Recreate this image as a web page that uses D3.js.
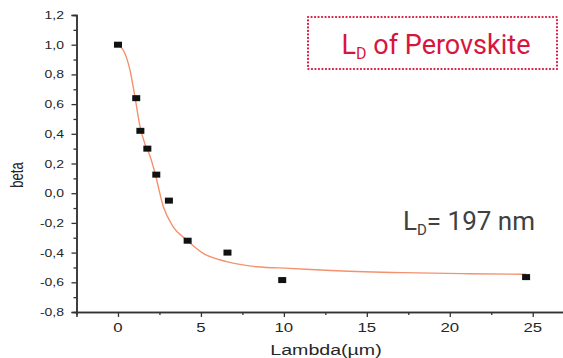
<!DOCTYPE html>
<html>
<head>
<meta charset="utf-8">
<script src="https://cdn.jsdelivr.net/npm/d3@7"></script>
<style>
  body { margin: 0; background: #fff; }
  svg { display: block; }
  .tick-label { font-family: "Liberation Sans", Arial, sans-serif; fill: #262626; }
</style>
</head>
<body>
<div id="chart"></div>
<script>
// measured points (Lambda in µm, beta)
const lambda = [0, 1.1, 1.35, 1.77, 2.31, 3.07, 4.2, 6.6, 9.9, 24.6]
const beta = [1.0, 0.64, 0.42, 0.30, 0.125, -0.05, -0.32, -0.40, -0.585, -0.565]

// fitted curve
const fitX = [0, 0.32, 0.72, 1.02, 1.33, 1.63, 1.93, 2.23, 2.73, 3.33, 4.14, 5.14, 6.55, 8.36, 10.36, 13.17, 17.17, 21.2, 24.6]
const fitY = [1.0, 0.964, 0.83, 0.65, 0.448, 0.33, 0.25, 0.136, -0.09, -0.226, -0.315, -0.405, -0.461, -0.495, -0.506, -0.522, -0.535, -0.542, -0.546]

const xTicks = [0, 5, 10, 15, 20, 25]
const xMinor = [2.5, 7.5, 12.5, 17.5, 22.5, 27.5]
const yTicks = [-0.8, -0.6, -0.4, -0.2, 0, 0.2, 0.4, 0.6, 0.8, 1.0, 1.2]
const yMinor = [-0.7, -0.5, -0.3, -0.1, 0.1, 0.3, 0.5, 0.7, 0.9, 1.1]

const width = 563
const height = 358

const x = d3.scaleLinear().domain([-2.5, 27.5]).range([76.5, 574.2])
const y = d3.scaleLinear().domain([-0.8, 1.2]).range([312, 15])

const svg = d3.select('#chart').append('svg')
    .attr('width', width)
    .attr('height', height)

const fmt = (d) => d3.format('.1f')(d).replace('.', ',').replace('−', '-')

// axes (minor ticks first, then major)
const axisColor = '#333'
const xAxisG = svg.append('g').attr('transform', `translate(0,${y(-0.8)})`)
xAxisG.call(d3.axisBottom(x).tickValues(xMinor).tickSize(3).tickFormat(''))
xAxisG.append('g').call(d3.axisBottom(x).tickValues(xTicks).tickSize(5).tickFormat(''))

const yAxisG = svg.append('g').attr('transform', `translate(${x(-2.5)},0)`)
yAxisG.call(d3.axisLeft(y).tickValues(yMinor).tickSize(3).tickFormat(''))
yAxisG.append('g').call(d3.axisLeft(y).tickValues(yTicks).tickSize(5).tickFormat(''))

svg.selectAll('.domain').attr('stroke', axisColor).attr('stroke-width', 1.5)
svg.selectAll('.tick line').attr('stroke', axisColor).attr('stroke-width', 1.3)
xAxisG.select('g').select('.domain').remove()
yAxisG.select('g').select('.domain').remove()

// tick labels, drawn a bit wide like the source image
svg.selectAll('text.xlab')
    .data(xTicks)
    .enter()
    .append('text')
    .attr('class', 'tick-label')
    .attr('transform', (d) => `translate(${x(d)},332) scale(1.4,1)`)
    .attr('text-anchor', 'middle')
    .attr('font-size', 12)
    .text((d) => d)

svg.selectAll('text.ylab')
    .data(yTicks)
    .enter()
    .append('text')
    .attr('class', 'tick-label')
    .attr('transform', (d) => `translate(64,${y(d) + 4}) scale(1.4,1)`)
    .attr('text-anchor', 'end')
    .attr('font-size', 10)
    .text(fmt)

svg.append('text')
    .attr('class', 'tick-label')
    .attr('transform', 'translate(326,355) scale(1.4,1)')
    .attr('text-anchor', 'middle')
    .attr('font-size', 14)
    .text('Lambda(µm)')

svg.append('text')
    .attr('class', 'tick-label')
    .attr('transform', 'translate(23,175) rotate(-90) scale(1,1.4)')
    .attr('text-anchor', 'middle')
    .attr('font-size', 13)
    .text('beta')

// fit curve
const line = d3.line()
    .x((d, i) => x(fitX[i]))
    .y((d) => y(d))
    .curve(d3.curveMonotoneX)

svg.append('path')
    .datum(fitY)
    .attr('d', line)
    .attr('fill', 'none')
    .attr('stroke', '#f5916e')
    .attr('stroke-width', 1.4)

// markers
svg.selectAll('rect.pt')
    .data(lambda)
    .enter()
    .append('rect')
    .attr('class', 'pt')
    .attr('x', (d) => x(d) - 4)
    .attr('y', (d, i) => y(beta[i]) - 3)
    .attr('width', 8)
    .attr('height', 6)
    .attr('fill', '#111')

// title box
const red = '#d8163d'
svg.append('rect')
    .attr('x', 308)
    .attr('y', 17)
    .attr('width', 249)
    .attr('height', 52)
    .attr('fill', 'none')
    .attr('stroke', red)
    .attr('stroke-width', 2.2)
    .attr('stroke-dasharray', '0.1 3.4')
    .attr('stroke-linecap', 'round')

const title = svg.append('text')
    .attr('x', 436)
    .attr('y', 54)
    .attr('text-anchor', 'middle')
    .attr('font-family', 'Roboto, sans-serif')
    .attr('font-size', 27)
    .attr('fill', red)
title.append('tspan').text('L')
title.append('tspan').attr('font-size', 16).attr('dy', 5).text('D')
title.append('tspan').attr('dy', -5).text(' of Perovskite')

const ld = svg.append('text')
    .attr('x', 403)
    .attr('y', 230)
    .attr('font-family', 'Roboto, sans-serif')
    .attr('font-size', 26)
    .attr('fill', '#404040')
ld.append('tspan').text('L')
ld.append('tspan').attr('font-size', 15).attr('dy', 5).text('D')
ld.append('tspan').attr('dy', -5).text('= 197 nm')
</script>
</body>
</html>
